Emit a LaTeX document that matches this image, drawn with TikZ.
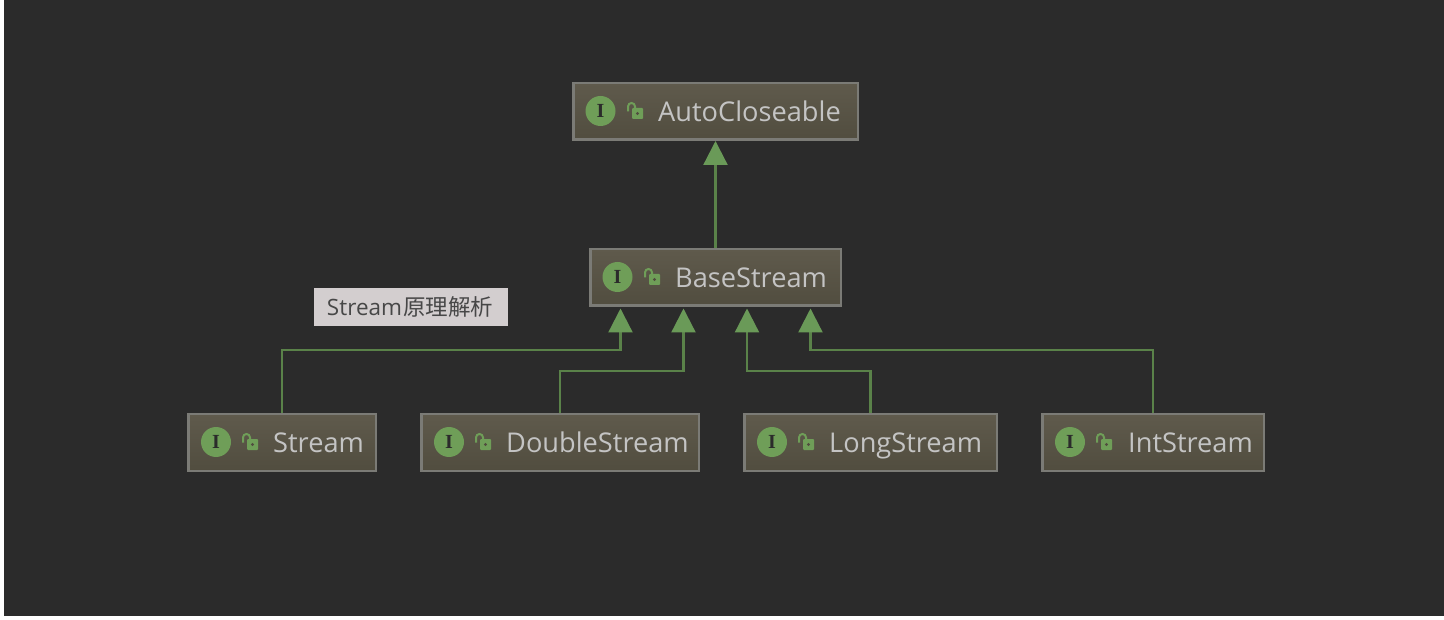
\documentclass[tikz,border=0pt]{standalone}
\usepackage{fontspec}
\setmainfont{Open Sans}
\newfontfamily\cjkfont{Noto Sans CJK SC}
\newfontfamily\badgefont{Liberation Serif}
\usetikzlibrary{arrows.meta}
\definecolor{canvas}{HTML}{2B2B2B}
\definecolor{boxedge}{HTML}{7B7B76}
\definecolor{boxtop}{HTML}{5F5A4C}
\definecolor{boxbottom}{HTML}{514D3F}
\definecolor{isagreen}{HTML}{5A8249}
\definecolor{tipgreen}{HTML}{6A9A58}
\definecolor{badgegreen}{HTML}{6F9E58}
\definecolor{labelgrey}{HTML}{C4C4C4}
\definecolor{notebg}{HTML}{D3CECF}
\tikzset{
  iface/.style={draw=boxedge, line width=2.5pt, top color=boxtop, bottom color=boxbottom,
    minimum height=56.5pt, inner sep=0pt},
  ifacename/.style={anchor=base west, inner sep=0pt, text=labelgrey,
    font=\fontsize{27.2}{30}\selectfont},
  badge/.style={circle, fill=badgegreen, minimum size=30pt, inner sep=0pt, text=canvas,
    font=\fontsize{20}{20}\selectfont\badgefont\bfseries},
  isa/.style={draw=isagreen, line width=2.3pt,
    -{Triangle[length=24pt, width=24pt, fill=tipgreen, color=tipgreen]}},
  lockicon/.pic={
    \fill[badgegreen, rounded corners=1pt] (-3,-3.5) rectangle (8,7.5);
    \fill[boxbottom] (2.5,2) circle (1.7);
    \draw[badgegreen, line width=2pt] (-7,0) -- (-7,-5) arc (180:360:3.5) -- (0,-3);
  },
}
\begin{document}
\begin{tikzpicture}[x=1pt, y=-1pt]
  \useasboundingbox (0,0) rectangle (1444,620);
  \fill[white] (0,0) rectangle (1444,620);
  \fill[canvas] (4,0) rectangle (1444,616);
  % interface boxes
  \node[iface, minimum width=284.5pt] (auto) at (715.5,111.5) {};
  \node[iface, minimum width=250.5pt] (base) at (715.5,277.5) {};
  \node[iface, minimum width=187.5pt] (stream) at (282,442.5) {};
  \node[iface, minimum width=277.5pt] (double) at (560,442.5) {};
  \node[iface, minimum width=252.5pt] (long) at (870.5,442.5) {};
  \node[iface, minimum width=221.5pt] (int) at (1153,442.5) {};
  \node[ifacename] (autoname) at (658,121.5) {AutoCloseable};
  \node[ifacename] (basename) at (675,287.5) {BaseStream};
  \node[ifacename] (streamname) at (273,452.5) {Stream};
  \node[ifacename] (doublename) at (506,452.5) {DoubleStream};
  \node[ifacename] (longname) at (829,452.5) {LongStream};
  \node[ifacename] (intname) at (1128,452.5) {IntStream};
  % icons
  \node[badge] (autoI) at (600.5,111) {I};
  \node[badge] (baseI) at (617.5,277) {I};
  \node[badge] (streamI) at (216,442) {I};
  \node[badge] (doubleI) at (449,442) {I};
  \node[badge] (longI) at (772,442) {I};
  \node[badge] (intI) at (1070,442) {I};
  \pic at (635,111.5) {lockicon};
  \pic at (652,277.5) {lockicon};
  \pic at (250,442.5) {lockicon};
  \pic at (483,442.5) {lockicon};
  \pic at (806,442.5) {lockicon};
  \pic at (1104,442.5) {lockicon};
  % arrow ends under BaseStream
  \coordinate (in1) at (620.5,308.5);
  \coordinate (in2) at (683.5,308.5);
  \coordinate (in3) at (747,308.5);
  \coordinate (in4) at (810.5,308.5);
  \draw[isa] (base.north) -- (auto.south);
  \draw[isa] (stream.north) -- ++(0,-63) -| (in1);
  \draw[isa] (double.north) -- ++(0,-42) -| (in2);
  \draw[isa] (long.north) -- ++(0,-42) -| (in3);
  \draw[isa] (int.north) -- ++(0,-63) -| (in4);
  % watermark note
  \node[fill=notebg, minimum width=194pt, minimum height=38pt, inner sep=0pt, text=black!72,
    font=\fontsize{22.5}{24}\selectfont] (note) at (411,307) {\hspace{-2pt}Stream\hspace{1pt}{\cjkfont 原理解析}};
\end{tikzpicture}
\end{document}
